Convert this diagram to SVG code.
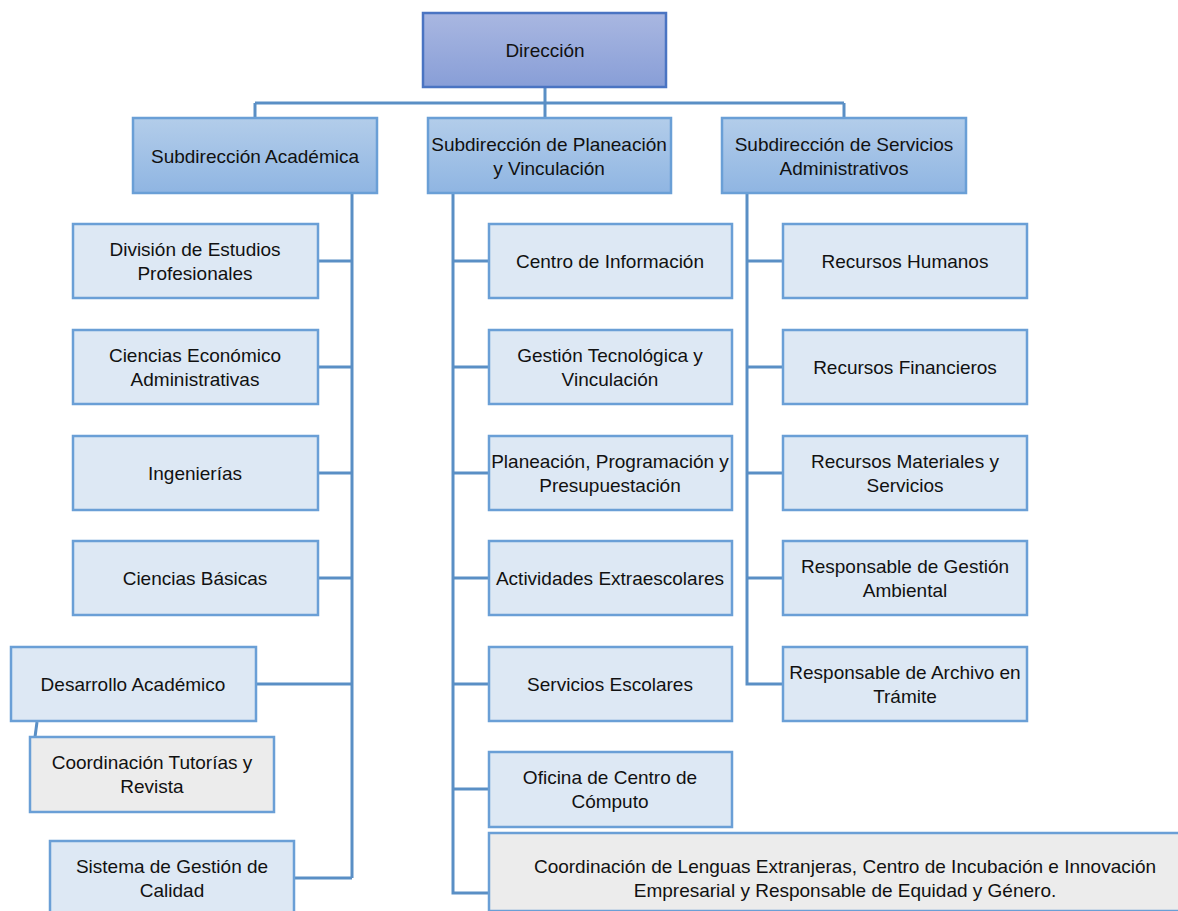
<svg xmlns="http://www.w3.org/2000/svg" width="1178" height="911" viewBox="0 0 1178 911">
<defs>
<linearGradient id="gTop" x1="0" y1="0" x2="0" y2="1"><stop offset="0" stop-color="#a9b7e1"/><stop offset="1" stop-color="#889ed7"/></linearGradient>
<linearGradient id="gSub" x1="0" y1="0" x2="0" y2="1"><stop offset="0" stop-color="#b3cdea"/><stop offset="1" stop-color="#8fb5e2"/></linearGradient>
</defs>
<style>
rect{stroke-width:2.5}
.top{fill:url(#gTop);stroke:#4a74c2}
.sub{fill:url(#gSub);stroke:#6a9fd6}
.box{fill:#dde8f4;stroke:#6a9fd6}
.grey{fill:#ececec;stroke:#6a9fd6}
text{font-family:"Liberation Sans",Arial,sans-serif;font-size:19px;fill:#111;text-anchor:middle}
.conn{fill:none;stroke:#5a8fc5;stroke-width:3}
</style>
<g id="connectors" class="conn">
<path d="M545 87V103M255 103H844M255 103V118M545 103V118M844 103V118"/>
<path d="M352 193V878M318 261H352M318 367H352M318 473H352M318 578H352M256 684H352M294 878H352"/>
<path d="M37 722L35 737"/>
<path d="M453 193V893H489M453 261H489M453 367H489M453 473H489M453 578H489M453 684H489M453 789H489"/>
<path d="M747 193V684H783M747 261H783M747 367H783M747 473H783M747 578H783"/>
</g>
<g id="direccion"><rect class="top" x="423" y="13" width="243" height="74"/><text x="545" y="57">Dirección</text></g>
<g id="sub-academica"><rect class="sub" x="133" y="118" width="244" height="75"/><text x="255" y="163">Subdirección Académica</text></g>
<g id="sub-planeacion"><rect class="sub" x="428" y="118" width="243" height="75"/><text x="549" y="151">Subdirección de Planeación</text><text x="549" y="175">y Vinculación</text></g>
<g id="sub-servicios"><rect class="sub" x="722" y="118" width="244" height="75"/><text x="844" y="151">Subdirección de Servicios</text><text x="844" y="175">Administrativos</text></g>

<g id="division"><rect class="box" x="73" y="224" width="245" height="74"/><text x="195" y="256">División de Estudios</text><text x="195" y="280">Profesionales</text></g>
<g id="economico"><rect class="box" x="73" y="330" width="245" height="74"/><text x="195" y="362">Ciencias Económico</text><text x="195" y="386">Administrativas</text></g>
<g id="ingenierias"><rect class="box" x="73" y="436" width="245" height="74"/><text x="195" y="480">Ingenierías</text></g>
<g id="basicas"><rect class="box" x="73" y="541" width="245" height="74"/><text x="195" y="585">Ciencias Básicas</text></g>
<g id="desarrollo"><rect class="box" x="11" y="647" width="245" height="74"/><text x="133" y="691">Desarrollo Académico</text></g>
<g id="tutorias"><rect class="grey" x="30" y="737" width="244" height="75"/><text x="152" y="769">Coordinación Tutorías y</text><text x="152" y="793">Revista</text></g>
<g id="calidad"><rect class="box" x="50" y="841" width="244" height="80"/><text x="172" y="873">Sistema de Gestión de</text><text x="172" y="897">Calidad</text></g>

<g id="centro-info"><rect class="box" x="489" y="224" width="243" height="74"/><text x="610" y="268">Centro de Información</text></g>
<g id="gestion-tec"><rect class="box" x="489" y="330" width="243" height="74"/><text x="610" y="362">Gestión Tecnológica y</text><text x="610" y="386">Vinculación</text></g>
<g id="planeacion-prog"><rect class="box" x="489" y="436" width="243" height="74"/><text x="610" y="468">Planeación, Programación y</text><text x="610" y="492">Presupuestación</text></g>
<g id="extraescolares"><rect class="box" x="489" y="541" width="243" height="74"/><text x="610" y="585">Actividades Extraescolares</text></g>
<g id="escolares"><rect class="box" x="489" y="647" width="243" height="74"/><text x="610" y="691">Servicios Escolares</text></g>
<g id="computo"><rect class="box" x="489" y="752" width="243" height="75"/><text x="610" y="784">Oficina de Centro de</text><text x="610" y="808">Cómputo</text></g>
<g id="lenguas"><rect class="grey" x="489" y="833" width="712" height="78"/><text x="845" y="873">Coordinación de Lenguas Extranjeras, Centro de Incubación e Innovación</text><text x="845" y="897">Empresarial y Responsable de Equidad y Género.</text></g>

<g id="rh"><rect class="box" x="783" y="224" width="244" height="74"/><text x="905" y="268">Recursos Humanos</text></g>
<g id="rf"><rect class="box" x="783" y="330" width="244" height="74"/><text x="905" y="374">Recursos Financieros</text></g>
<g id="rm"><rect class="box" x="783" y="436" width="244" height="74"/><text x="905" y="468">Recursos Materiales y</text><text x="905" y="492">Servicios</text></g>
<g id="ambiental"><rect class="box" x="783" y="541" width="244" height="74"/><text x="905" y="573">Responsable de Gestión</text><text x="905" y="597">Ambiental</text></g>
<g id="archivo"><rect class="box" x="783" y="647" width="244" height="74"/><text x="905" y="679">Responsable de Archivo en</text><text x="905" y="703">Trámite</text></g>
</svg>
